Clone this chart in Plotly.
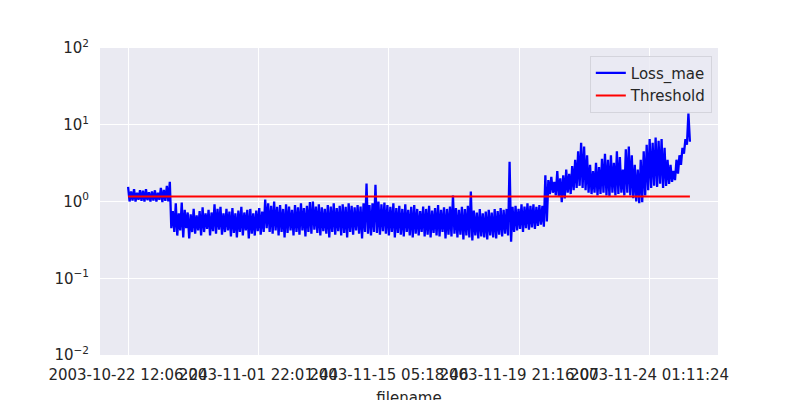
import numpy as np
import plotly.graph_objects as go

# filename index span (2156 files) and tick labels
n_files = 2156
tick_idx = [0, 500, 1000, 1500, 2000]
tick_labels = ["2003-10-22 12:06:24", "2003-11-01 22:01:44", "2003-11-15 05:18:46",
               "2003-11-19 21:16:07", "2003-11-24 01:11:24"]

# loss_mae (alternating high / low of the noisy band)
loss_mae = [
    # first days, around the threshold
    1.55, 1.0, 1.35, 1.03, 1.45, 1.0, 1.3, 1.05, 1.4, 1.02, 1.38, 1.0, 1.45, 1.04,
    1.32, 1.0, 1.35, 1.03, 1.4, 1.0, 1.3, 1.05, 1.5, 0.98, 1.42, 1.02, 1.6, 1.0,
    # drop below
    1.8, 0.45, 0.75, 0.4, 0.95, 0.36, 0.7, 0.42, 0.97, 0.34, 0.78, 0.45, 0.72, 0.33,
    0.68, 0.4, 0.8, 0.38, 0.66, 0.42, 0.75, 0.36, 0.84, 0.4, 0.7, 0.44, 0.78, 0.36,
    0.72, 0.41, 0.92, 0.38, 0.8, 0.43, 0.85, 0.37, 0.7, 0.4, 0.8, 0.42, 0.74, 0.35,
    0.82, 0.39, 0.7, 0.34, 0.76, 0.4, 0.85, 0.36, 0.72, 0.42, 0.78, 0.33, 0.8, 0.38,
    0.7, 0.36, 0.76, 0.41, 0.82, 0.37, 0.74, 0.4,
    # early november
    1.06, 0.45, 0.95, 0.4, 0.88, 0.38, 1.0, 0.42, 0.85, 0.36, 0.9, 0.4, 0.8, 0.34,
    0.92, 0.39, 0.86, 0.42, 0.78, 0.36, 0.9, 0.4, 0.84, 0.37, 0.95, 0.42, 0.82, 0.35,
    0.88, 0.4, 0.98, 0.38, 1.0, 0.43, 0.86, 0.39, 0.92, 0.36, 0.84, 0.41, 0.8, 0.38,
    0.9, 0.34, 0.86, 0.4, 0.95, 0.37, 0.82, 0.41, 0.88, 0.36, 0.92, 0.39, 0.85, 0.34,
    0.95, 0.4, 0.88, 0.37, 0.84, 0.42, 0.9, 0.38, 0.86, 0.33, 0.95, 0.4, 1.72, 0.38,
    0.9, 0.36, 0.95, 0.4, 1.65, 0.39, 1.0, 0.37, 0.92, 0.41,
    # mid november
    0.97, 0.38, 0.9, 0.36, 0.85, 0.4, 0.95, 0.34, 0.82, 0.39, 0.88, 0.37, 0.8, 0.35,
    0.92, 0.4, 0.78, 0.36, 0.85, 0.34, 0.9, 0.38, 0.8, 0.36, 0.75, 0.4, 0.86, 0.35,
    0.8, 0.37, 0.88, 0.34, 0.76, 0.39, 0.82, 0.36, 0.9, 0.35, 0.78, 0.4, 0.84, 0.33,
    0.8, 0.37, 0.86, 0.35, 1.2, 0.38, 0.82, 0.34, 0.78, 0.37, 0.85, 0.32, 0.8, 0.36,
    0.88, 0.34, 1.35, 0.31, 0.76, 0.36, 0.72, 0.33, 0.8, 0.35, 0.7, 0.34, 0.74, 0.32,
    0.78, 0.36, 0.72, 0.34, 0.8, 0.33, 0.75, 0.37, 0.82, 0.35, 0.78, 0.38, 0.8, 0.36,
    3.3, 0.3, 0.85, 0.4, 0.88, 0.42, 0.8, 0.44, 0.92, 0.4, 0.86, 0.45, 0.95, 0.43,
    0.88, 0.46, 0.92, 0.44, 0.85, 0.48, 0.9, 0.5, 0.88, 0.47,
    # degradation
    2.2, 0.55, 1.9, 1.25, 2.1, 1.3, 1.8, 1.2, 2.5, 1.15, 2.0, 0.98, 2.2, 1.1,
    2.6, 1.3, 2.3, 1.25, 2.9, 1.4, 3.5, 1.5, 4.5, 1.6, 5.8, 1.5, 5.2, 1.4,
    4.0, 1.3, 3.0, 1.25, 2.5, 1.3, 3.2, 1.2, 2.8, 1.25, 3.6, 1.3, 4.2, 1.2,
    3.5, 1.15, 4.0, 1.3, 3.2, 1.2, 4.5, 1.25, 3.8, 1.3, 2.6, 1.2, 4.8, 1.3,
    5.2, 1.2, 4.0, 1.1, 3.0, 1.0, 2.6, 0.95, 3.5, 0.98, 4.5, 1.2, 5.5, 1.4,
    6.5, 1.5, 5.8, 1.6, 6.8, 1.55, 6.2, 1.7, 6.5, 1.5, 5.0, 1.6, 3.5, 1.7,
    3.0, 1.8, 2.5, 1.9, 3.5, 2.3, 4.0, 3.0, 5.0, 4.2, 6.5, 5.5, 14.0, 6.0,
]
threshold = 1.16

x_loss = np.linspace(0, n_files - 1, len(loss_mae))

fig = go.Figure()
fig.add_trace(go.Scatter(x=x_loss, y=loss_mae, mode="lines", name="Loss_mae",
                         line=dict(color="blue", width=2.3)))
fig.add_trace(go.Scatter(x=[0, n_files - 1], y=[threshold, threshold], mode="lines",
                         name="Threshold", line=dict(color="red", width=2)))

pad = 0.05 * (n_files - 1)
fig.update_layout(
    width=800, height=400,
    paper_bgcolor="white", plot_bgcolor="#EAEAF2",
    margin=dict(l=92, r=90, t=40, b=53),
    font=dict(family="DejaVu Sans", size=15, color="#262626"),
    showlegend=True,
    legend=dict(x=0.99, y=0.975, xanchor="right", yanchor="top",
                bgcolor="rgba(234,234,242,0.8)", bordercolor="#D4D4DC", borderwidth=1,
                font=dict(size=15), tracegroupgap=0, itemwidth=30),
    xaxis=dict(range=[-pad, n_files - 1 + pad], tickvals=tick_idx, ticktext=tick_labels,
               tickangle=0, showgrid=True, gridcolor="white", gridwidth=1,
               zeroline=False, showline=False, ticks="", ticklabelstandoff=9,
               automargin=False,
               title=dict(text="filename", standoff=9, font=dict(size=15))),
    yaxis=dict(type="log", range=[-2, 2], tickvals=[0.01, 0.1, 1, 10, 100],
               ticktext=["10<sup>−2</sup>", "10<sup>−1</sup>", "10<sup>0</sup>",
                         "10<sup>1</sup>", "10<sup>2</sup>"],
               showgrid=True, gridcolor="white", gridwidth=1, zeroline=False,
               showline=False, ticks="", ticklabelstandoff=10, automargin=False),
)

fig.write_html("out.html")
